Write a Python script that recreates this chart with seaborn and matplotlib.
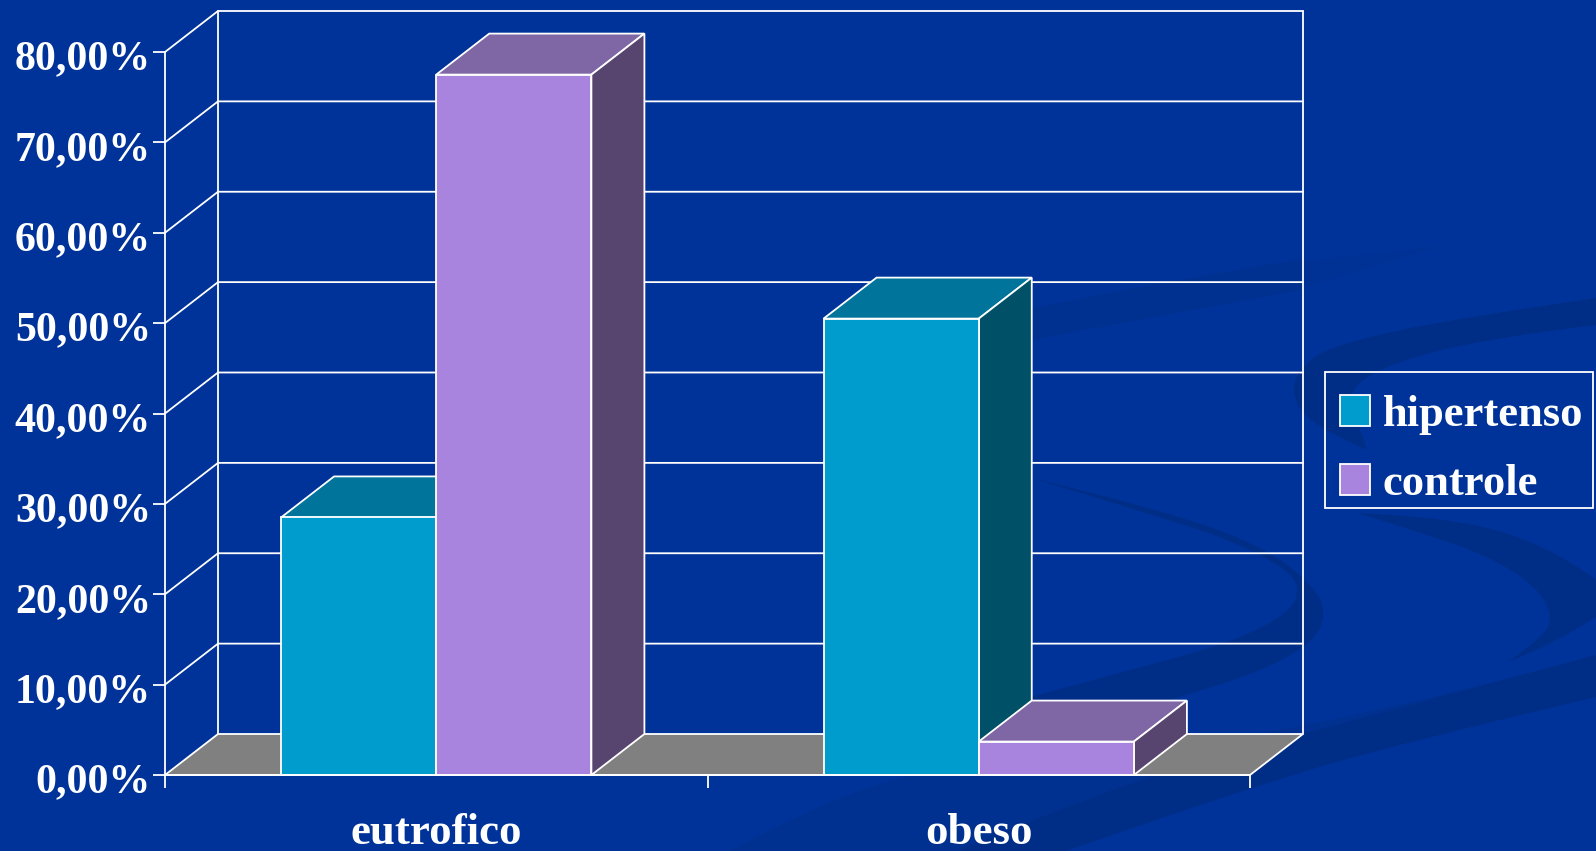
import matplotlib
matplotlib.use("Agg")
import matplotlib.pyplot as plt
import pandas as pd
import seaborn as sns
from matplotlib.patches import Patch, PathPatch, Polygon, Rectangle
from matplotlib.path import Path
from matplotlib.ticker import FuncFormatter
from matplotlib.transforms import ScaledTranslation

categories = ["eutrofico", "obeso"]
series_names = ["hipertenso", "controle"]
hipertenso = [28.5, 50.5]
controle = [77.5, 3.7]
y_ticks = [0, 10, 20, 30, 40, 50, 60, 70, 80]

BG = "#003399"
SWOOSH = "#002E87"
SWOOSH_LIGHT = "#003090"
SWOOSH_FAINT = "#003195"
FRONT = {"hipertenso": "#009CCE", "controle": "#A984DE"}
TOP = {"hipertenso": "#00749A", "controle": "#7F67A6"}
SIDE = {"hipertenso": "#005068", "controle": "#574570"}
FLOOR = "#808080"
LW = 1.3

W, H = 1596, 851
sns.set_style("white")
plt.rcParams["font.family"] = ["Liberation Serif", "DejaVu Serif"]
plt.rcParams["font.weight"] = "bold"

df = pd.DataFrame({
    "grupo": categories * 2,
    "serie": [series_names[0]] * 2 + [series_names[1]] * 2,
    "valor": hipertenso + controle,
})


def smooth_shape(*edges):
    # cada borda vira uma curva suave; as bordas sao ligadas por retas
    verts, codes = [], []
    for pts in edges:
        verts.append(pts[0])
        codes.append(Path.LINETO if verts[:-1] else Path.MOVETO)
        for i in range(1, len(pts) - 1):
            end = pts[i + 1] if i == len(pts) - 2 else ((pts[i][0] + pts[i + 1][0]) / 2, (pts[i][1] + pts[i + 1][1]) / 2)
            verts += [pts[i], end]
            codes += [Path.CURVE3, Path.CURVE3]
    verts.append(verts[0])
    codes.append(Path.CLOSEPOLY)
    return Path(verts, codes)


fig = plt.figure(figsize=(W / 100, H / 100), dpi=100, facecolor=BG)

# fundo com as faixas escuras do slide
bg = fig.add_axes([0, 0, 1, 1], zorder=0)
bg.set_xlim(0, W)
bg.set_ylim(H, 0)
bg.axis("off")
shapes = [
    # faixa fina do alto: some aos poucos depois da parede do grafico
    (SWOOSH_FAINT, [[(1250, 270), (1303, 260), (1440, 246)],
                    [(1440, 246), (1303, 290), (1250, 300)]]),
    (SWOOSH_LIGHT, [[(1000, 315), (1130, 287), (1302, 259)],
                    [(1302, 290), (1163, 315), (1000, 346)]]),
    # faixa que entra pela direita e dobra atras da legenda
    (SWOOSH, [[(1596, 298), (1457, 318), (1340, 343), (1303, 363), (1290, 392), (1310, 425), (1367, 450)],
              [(1367, 450), (1357, 420), (1347, 390), (1390, 363), (1490, 338), (1596, 325)]]),
    # curva do meio
    (SWOOSH, [[(1032, 478), (1163, 510), (1263, 546), (1313, 585), (1327, 613), (1313, 643), (1263, 670), (1213, 687), (1120, 715), (1030, 735)],
              [(1030, 697), (1130, 670), (1230, 643), (1290, 613), (1300, 587), (1285, 568), (1230, 540), (1163, 518), (1032, 478)]]),
    # curva da direita
    (SWOOSH, [[(1357, 513), (1457, 517), (1557, 550), (1596, 580)],
              [(1596, 617), (1557, 643), (1508, 662)],
              [(1508, 662), (1543, 637), (1553, 617), (1537, 587), (1490, 557), (1423, 533), (1357, 513)]]),
    # faixa inferior
    (SWOOSH_LIGHT, [[(730, 851), (860, 780), (1020, 760), (1300, 735), (1596, 655)],
                    [(1596, 697), (1413, 740), (1249, 787), (1066, 851)]]),
    (SWOOSH, [[(957, 851), (1128, 780), (1300, 735), (1596, 655)],
              [(1596, 697), (1413, 740), (1249, 787), (1066, 851)]]),
]
for color, edges in shapes:
    bg.add_patch(PathPatch(smooth_shape(*edges), fc=color, ec="none"))
bg.add_patch(Rectangle((1325, 372), 268, 136, fc="none", ec="white", lw=LW))

ax = fig.add_axes([165 / W, (H - 775) / H, (1250 - 165) / W, (775 - 52) / H], zorder=1)
ax.patch.set_alpha(0)

sns.barplot(data=df, x="grupo", y="valor", hue="serie", order=categories,
            hue_order=series_names, palette=FRONT, width=0.572, gap=0,
            edgecolor="white", linewidth=LW, saturation=1, legend=False, ax=ax)
ax.set_xlim(-0.5, 1.5)
ax.set_ylim(0, 80)
ax.set_xlabel("")
ax.set_ylabel("")

# profundidade falsa 3D, em unidades de dados
dx = 53 / (1085 / 2)
dy = 41 / (723 / 80)
x0, x1 = ax.get_xlim()
bars = sorted(ax.patches, key=lambda p: p.get_x())

ax.add_patch(Polygon([(x0, 0), (x0 + dx, dy), (x1 + dx, dy), (x1, 0)], closed=True,
                     fc=FLOOR, ec="white", lw=LW, clip_on=False, zorder=1))
for t in y_ticks[1:]:
    ax.plot([x0, x0 + dx, x1 + dx], [t, t + dy, t + dy], color="white", lw=LW, clip_on=False, zorder=1)
ax.plot([x0 + dx, x0 + dx], [dy, 80 + dy], color="white", lw=LW, clip_on=False, zorder=1)
ax.plot([x1 + dx, x1 + dx], [dy, 80 + dy], color="white", lw=LW, clip_on=False, zorder=1)

for k, b in enumerate(bars):
    name = series_names[k % 2]
    xa, w, h = b.get_x(), b.get_width(), b.get_height()
    z = 2 + k
    b.set_zorder(z + 0.5)
    ax.add_patch(Polygon([(xa, h), (xa + dx, h + dy), (xa + w + dx, h + dy), (xa + w, h)], closed=True,
                         fc=TOP[name], ec="white", lw=LW, clip_on=False, zorder=z))
    ax.add_patch(Polygon([(xa + w, 0), (xa + w + dx, dy), (xa + w + dx, h + dy), (xa + w, h)], closed=True,
                         fc=SIDE[name], ec="white", lw=LW, clip_on=False, zorder=z))

sns.despine(ax=ax, top=True, right=True)
for sp in ["left", "bottom"]:
    ax.spines[sp].set_color("white")
    ax.spines[sp].set_linewidth(LW)
    ax.spines[sp].set_zorder(20)

ax.set_yticks(y_ticks)
ax.yaxis.set_major_formatter(FuncFormatter(lambda v, _: f"{v:.2f}%".replace(".", ",")))
ax.tick_params(axis="y", left=True, length=8.6, width=LW, color="white", labelcolor="white",
               labelsize=30.2, pad=1.5)
shift = ScaledTranslation(0, -3 / 100, fig.dpi_scale_trans)
for lab in ax.get_yticklabels():
    lab.set_transform(lab.get_transform() + shift)
ax.set_xticks([0, 1], categories)
ax.set_xticks([-0.5, 0.5, 1.5], minor=True)
ax.tick_params(axis="x", which="major", bottom=False, labelcolor="white", labelsize=32.3, pad=24)
ax.tick_params(axis="x", which="minor", bottom=True, length=9, width=LW, color="white")

handles = [Patch(fc=FRONT[n], ec="white", lw=LW, label=n) for n in series_names]
ax.legend(handles=handles, loc="upper left", bbox_to_anchor=(1340 / W, 1 - 395 / H),
          bbox_transform=fig.transFigure, borderaxespad=0, fontsize=32, labelcolor="white",
          frameon=False, handlelength=0.68, handleheight=0.68, handletextpad=0.28,
          labelspacing=0.65, borderpad=0)

fig.savefig("out.png", dpi=100, facecolor=BG)
